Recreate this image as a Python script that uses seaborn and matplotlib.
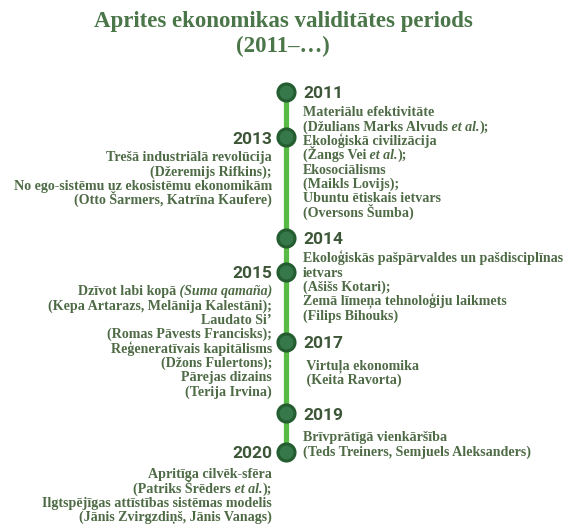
import matplotlib
matplotlib.use("Agg")
import matplotlib.pyplot as plt
import seaborn as sns
import pandas as pd

# Timeline content (*...* marks italic parts)
years = [2011, 2013, 2014, 2015, 2017, 2019, 2020]
sides = ["right", "left", "right", "left", "right", "right", "left"]
works = [
    ["Materiālu efektivitāte",
     "(Džulians Marks Alvuds* et al.*);",
     "Ekoloģiskā civilizācija",
     "(Žangs Vei* et al.*);",
     "Ekosociālisms",
     "(Maikls Lovijs);",
     "Ubuntu ētiskais ietvars",
     "(Oversons Šumba)"],
    ["Trešā industriālā revolūcija",
     "(Džeremijs Rifkins);",
     "No ego-sistēmu uz ekosistēmu ekonomikām",
     "(Otto Šarmers, Katrīna Kaufere)"],
    ["Ekoloģiskās pašpārvaldes un pašdisciplīnas",
     "ietvars",
     "(Ašišs Kotari);",
     "Zemā līmeņa tehnoloģiju laikmets",
     "(Filips Bihouks)"],
    ["Dzīvot labi kopā* (Suma qamaña)*",
     "(Kepa Artarazs, Melānija Kalestāni);",
     "Laudato Si’",
     "(Romas Pāvests Francisks);",
     "Reģeneratīvais kapitālisms",
     "(Džons Fulertons);",
     "Pārejas dizains",
     "(Terija Irvina)"],
    [" Virtuļa ekonomika",
     " (Keita Ravorta)"],
    ["Brīvprātīgā vienkāršība",
     "(Teds Treiners, Semjuels Aleksanders)"],
    ["Apritīga cilvēk-sfēra",
     "(Patriks Šrēders* et al.*);",
     "Ilgtspējīgas attīstības sistēmas modelis",
     "(Jānis Zvirgzdiņš, Jānis Vanags)"],
]
title_lines = ["Aprites ekonomikas validitātes periods", "(2011–…)"]

# Layout (pixel rows along the timeline)
row_y = [92, 137, 238, 272, 342, 413, 452]
text_gap = [20, 20, 20, 19, 23, 24, 22]
spine_x = 286
line_h = 14.3

title_col = "#4b7649"
text_col = "#4e6b46"
year_col = "#3c5637"

sns.set_theme(style="white")

fig = plt.figure(figsize=(5.63, 5.24), dpi=100)
ax = fig.add_axes([0, 0, 1, 1])

df = pd.DataFrame({"year": years, "row": row_y, "x": [spine_x] * len(years)})

# spine of the timeline
sns.lineplot(data=df, x="x", y="row", color="#58bb45", linewidth=3.8,
             estimator=None, sort=False, ax=ax, zorder=1)
# dots: dark outer ring + lighter core for a shaded look
sns.scatterplot(data=df, x="x", y="row", s=210, color="#235d30",
                linewidth=0, ax=ax, zorder=3)
sns.scatterplot(data=df, x="x", y="row", s=100, color="#37784a",
                linewidth=0, ax=ax, zorder=4)

body = dict(fontsize=10.1, family="Liberation Serif", weight="bold",
            color=text_col)


def draw_line(x, y, line, ha):
    # split into (text, style) pieces and chain them next to each other
    segs = [(p, "italic" if i % 2 else "normal")
            for i, p in enumerate(line.split("*")) if p]
    if ha == "right":
        segs = segs[::-1]
    prev = None
    for p, st in segs:
        if prev is None:
            prev = ax.text(x, y, p, ha=ha, va="baseline", style=st, **body)
        else:
            anchor = (1, 0) if ha == "left" else (0, 0)
            prev = ax.annotate(p, xy=anchor, xycoords=prev, ha=ha,
                               va="bottom", style=st, **body)


for yr, side, lines, y, gap in zip(years, sides, works, row_y, text_gap):
    if side == "right":
        xt, ha = spine_x + 17, "left"
    else:
        xt, ha = spine_x - 14, "right"
    ax.text(xt, y + 6.5, str(yr), ha=ha, va="baseline", fontsize=12.5,
            family="Roboto", weight="bold", color=year_col)
    for i, ln in enumerate(lines):
        draw_line(xt, y + gap + i * line_h + 4.3, ln, ha)

for i, t in enumerate(title_lines):
    ax.text(283, 27 + i * 25, t, ha="center", va="baseline", fontsize=16.5,
            family="Liberation Serif", weight="bold", color=title_col)

ax.set_xlim(0, 563)
ax.set_ylim(524, 0)
ax.axis("off")

fig.savefig("out.png", dpi=100)
